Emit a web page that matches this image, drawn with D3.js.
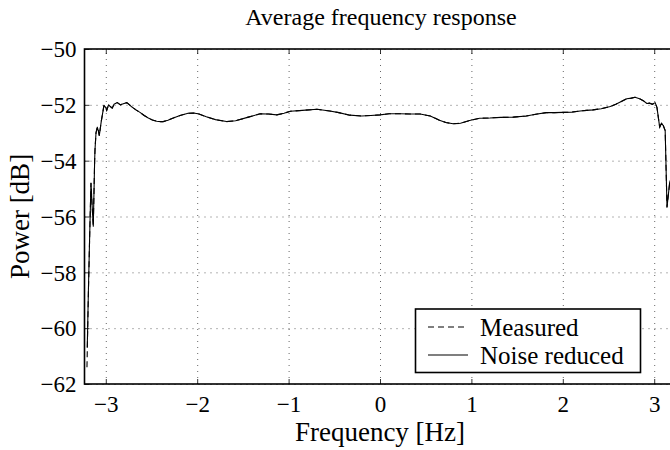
<!DOCTYPE html>
<html>
<head>
<meta charset="utf-8">
<script src="https://cdn.jsdelivr.net/npm/d3@7"></script>
<style>
  html, body { margin: 0; padding: 0; background: #fff; }
</style>
</head>
<body>
<svg id="chart" width="670" height="450"></svg>
<script>
// Frequency grid [Hz]
const freq = [-3.206, -3.203, -3.19, -3.175, -3.162, -3.15, -3.137, -3.122, -3.118, -3.107, -3.093, -3.08, -3.071, -3.05,
  -3.02, -3.00, -2.99, -2.97, -2.954, -2.93, -2.91, -2.874, -2.84, -2.80, -2.77, -2.74, -2.717, -2.67,
  -2.626, -2.58, -2.535, -2.49, -2.443, -2.40, -2.371, -2.32, -2.261, -2.188, -2.10, -2.04, -1.98, -1.90,
  -1.80, -1.68, -1.58, -1.45, -1.31, -1.22, -1.13, -1.05, -0.98, -0.85, -0.69, -0.55, -0.45, -0.33,
  -0.20, -0.10, 0, 0.10, 0.22, 0.33, 0.44, 0.55, 0.65, 0.72, 0.80, 0.88, 0.98, 1.09, 1.20, 1.32,
  1.46, 1.60, 1.72, 1.82, 1.91, 2.00, 2.10, 2.19, 2.26, 2.33, 2.42, 2.52, 2.58, 2.64, 2.70, 2.75,
  2.79, 2.84, 2.88, 2.92, 2.95, 2.98, 3.01, 3.03, 3.06, 3.08, 3.10, 3.12, 3.14, 3.17, 3.20];

// Average power of the measured signal [dB]
const measured = [-61.4, -60.9, -58.7, -56.5, -54.8, -55.6, -56.35, -54.0, -53.6, -53.0, -52.8, -52.95, -53.1, -52.6,
  -52.02, -52.1, -52.2, -52.0, -52.05, -52.12, -51.98, -51.92, -52.0, -51.95, -51.92, -52.0, -52.07, -52.18,
  -52.27, -52.38, -52.47, -52.54, -52.59, -52.6, -52.6, -52.55, -52.47, -52.38, -52.3, -52.29, -52.33, -52.43,
  -52.53, -52.6, -52.57, -52.45, -52.32, -52.33, -52.36, -52.3, -52.23, -52.2, -52.16, -52.22, -52.28, -52.37,
  -52.4, -52.38, -52.36, -52.32, -52.32, -52.33, -52.33, -52.4, -52.55, -52.63, -52.68, -52.66, -52.56, -52.48, -52.47, -52.45,
  -52.44, -52.4, -52.33, -52.28, -52.28, -52.27, -52.26, -52.22, -52.2, -52.18, -52.14, -52.06, -51.98, -51.88, -51.78, -51.76,
  -51.73, -51.78, -51.85, -51.95, -51.94, -51.98, -51.92, -52.09, -52.8, -52.65, -52.75, -52.92, -55.67, -54.77, -54.5];

// Average power after noise reduction [dB]
const noiseReduced = [null, -60.7, -58.6, -56.5, -54.8, -55.6, -56.35, -54.0, -53.6, -53.0, -52.8, -52.95, -53.1, -52.6,
  -52.02, -52.1, -52.2, -52.0, -52.05, -52.12, -51.98, -51.92, -52.0, -51.95, -51.92, -52.0, -52.07, -52.18,
  -52.27, -52.38, -52.47, -52.54, -52.59, -52.6, -52.6, -52.55, -52.47, -52.38, -52.3, -52.29, -52.33, -52.43,
  -52.53, -52.6, -52.57, -52.45, -52.32, -52.33, -52.36, -52.3, -52.23, -52.2, -52.16, -52.22, -52.28, -52.37,
  -52.4, -52.38, -52.36, -52.32, -52.32, -52.33, -52.33, -52.4, -52.55, -52.63, -52.68, -52.66, -52.56, -52.48, -52.47, -52.45,
  -52.44, -52.4, -52.33, -52.28, -52.28, -52.27, -52.26, -52.22, -52.2, -52.18, -52.14, -52.06, -51.98, -51.88, -51.78, -51.76,
  -51.73, -51.78, -51.85, -51.95, -51.94, -51.98, -51.92, -52.09, -52.8, -52.65, -52.75, -52.92, -55.67, -54.77, -54.5];

const xTicks = [-3, -2, -1, 0, 1, 2, 3];
const yTicks = [-62, -60, -58, -56, -54, -52, -50];
const seriesNames = ["Measured", "Noise reduced"];

const serif = "'Liberation Serif', 'Times New Roman', Times, serif";
const svg = d3.select("#chart").attr("font-family", serif);
const plotLeft = 84.5, plotRight = 675.5, plotTop = 49, plotBottom = 384;

const x = d3.scaleLinear().domain([-3.233, 3.233]).range([plotLeft, plotRight]);
const y = d3.scaleLinear().domain([-62, -50]).range([plotBottom, plotTop]);

const fmt = d => (d < 0 ? "\u2212" + Math.abs(d) : String(d));

svg.append("defs").append("clipPath").attr("id", "plotClip")
  .append("rect").attr("x", plotLeft).attr("y", plotTop)
  .attr("width", plotRight - plotLeft).attr("height", plotBottom - plotTop);

// dotted grid
const grid = svg.append("g").attr("class", "grid");
grid.append("g").attr("transform", `translate(0,${plotBottom})`)
  .call(d3.axisBottom(x).tickValues(xTicks).tickSize(-(plotBottom - plotTop)).tickFormat(""));
grid.append("g").attr("transform", `translate(${plotLeft},0)`)
  .call(d3.axisLeft(y).tickValues(yTicks).tickSize(-(plotRight - plotLeft)).tickFormat(""));
grid.selectAll(".domain").remove();
grid.selectAll("line").attr("stroke", "#000").attr("stroke-width", 1)
  .attr("stroke-dasharray", "1,5").attr("opacity", 0.6);

// inward tick marks on all sides
const tickLen = 5;
const axB = svg.append("g").attr("transform", `translate(0,${plotBottom})`)
  .call(d3.axisBottom(x).tickValues(xTicks).tickSizeInner(-tickLen).tickSizeOuter(0).tickPadding(12).tickFormat(fmt));
const axT = svg.append("g").attr("transform", `translate(0,${plotTop})`)
  .call(d3.axisTop(x).tickValues(xTicks).tickSizeInner(-tickLen).tickSizeOuter(0).tickFormat(""));
const axL = svg.append("g").attr("transform", `translate(${plotLeft},0)`)
  .call(d3.axisLeft(y).tickValues(yTicks).tickSizeInner(-tickLen).tickSizeOuter(0).tickPadding(8).tickFormat(fmt));
[axB, axT, axL].forEach(a => {
  a.attr("font-family", serif).attr("font-size", 23);
  a.select(".domain").remove();
  a.selectAll("line").attr("stroke", "#000").attr("stroke-width", 0.8);
  a.selectAll("text").attr("fill", "#000").attr("font-family", serif).attr("font-size", 23);
});
axL.selectAll("text").attr("dy", "0.34em");

// frame
svg.append("rect").attr("x", plotLeft).attr("y", plotTop)
  .attr("width", plotRight - plotLeft).attr("height", plotBottom - plotTop)
  .attr("fill", "none").attr("stroke", "#000").attr("stroke-width", 1.6);

// series
const pts = vals => freq.map((f, i) => [f, vals[i]]);
const line = d3.line().defined(d => d[1] !== null).x(d => x(d[0])).y(d => y(d[1]));
const plot = svg.append("g").attr("clip-path", "url(#plotClip)");
plot.append("path").datum(pts(measured)).attr("d", line)
  .attr("fill", "none").attr("stroke", "#000").attr("stroke-width", 1.1).attr("stroke-dasharray", "6,4");
plot.append("path").datum(pts(noiseReduced)).attr("d", line)
  .attr("fill", "none").attr("stroke", "#000").attr("stroke-width", 1.1).attr("stroke-linejoin", "round");

// title and axis labels
svg.append("text").attr("x", 381).attr("y", 25).attr("text-anchor", "middle")
  .attr("font-family", serif).attr("font-size", 24).text("Average frequency response");
svg.append("text").attr("x", 380).attr("y", 441).attr("text-anchor", "middle")
  .attr("font-family", serif).attr("font-size", 27).text("Frequency [Hz]");
svg.append("text").attr("transform", `translate(29,${(plotTop + plotBottom) / 2}) rotate(-90)`)
  .attr("text-anchor", "middle").attr("font-family", serif).attr("font-size", 27).text("Power [dB]");

// legend
const lg = svg.append("g");
lg.append("rect").attr("x", 415.5).attr("y", 309).attr("width", 225).attr("height", 63.5)
  .attr("fill", "#fff").attr("stroke", "#000").attr("stroke-width", 1.6);
const dashes = ["6,4", null];
seriesNames.forEach((name, i) => {
  const yy = 327 + i * 28;
  const l = lg.append("line").attr("x1", 428).attr("x2", 468).attr("y1", yy).attr("y2", yy)
    .attr("stroke", "#000").attr("stroke-width", 1.1);
  if (dashes[i]) l.attr("stroke-dasharray", dashes[i]);
  lg.append("text").attr("x", 480).attr("y", yy).attr("dy", "0.34em")
    .attr("font-family", serif).attr("font-size", 25).text(name);
});
</script>
</body>
</html>
